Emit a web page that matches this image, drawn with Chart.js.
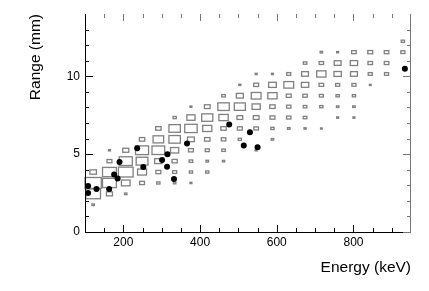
<!DOCTYPE html>
<html>
<head>
<meta charset="utf-8">
<script src="https://cdn.jsdelivr.net/npm/chart.js@4.4.1/dist/chart.umd.min.js"></script>
<style>
  html, body { margin: 0; padding: 0; background: #fff; }
  #wrap { width: 429px; height: 291px; }
</style>
</head>
<body>
<div id="wrap"><canvas id="rangeChart"></canvas></div>
<script>
// histogram binning (energy in keV, range in mm)
const energyMin = 100, energyMax = 950, energyBins = 20;
const rangeMin = 0, rangeMax = 14, rangeBins = 20;

// box cells: [energy bin, range bin, relative content]
const boxCells = [
  [0, 2, 15],
  [0, 3, 90], [1, 3, 37], [2, 3, 15],
  [0, 4, 100], [1, 4, 85], [2, 4, 53], [3, 4, 30], [4, 4, 20], [5, 4, 16], [6, 4, 12],
  [0, 5, 40], [1, 5, 85], [2, 5, 90], [3, 5, 55], [4, 5, 30], [5, 5, 25], [6, 5, 20], [7, 5, 20],
  [1, 6, 30], [2, 6, 80], [3, 6, 72], [4, 6, 45], [5, 6, 32], [6, 6, 22], [7, 6, 16], [8, 6, 14],
  [1, 7, 12], [2, 7, 37], [3, 7, 80], [4, 7, 78], [5, 7, 50], [6, 7, 30], [7, 7, 25], [8, 7, 22], [10, 7, 12],
  [3, 8, 33], [4, 8, 65], [5, 8, 70], [6, 8, 42], [7, 8, 33], [8, 8, 28], [9, 8, 20], [11, 8, 15],
  [4, 9, 33], [5, 9, 70], [6, 9, 76], [7, 9, 56], [8, 9, 33], [9, 9, 30], [10, 9, 28], [11, 9, 20], [12, 9, 16], [13, 9, 13], [14, 9, 10],
  [5, 10, 20], [6, 10, 50], [7, 10, 68], [8, 10, 57], [9, 10, 35], [10, 10, 35], [11, 10, 30], [12, 10, 27], [13, 10, 22], [15, 10, 12], [16, 10, 12],
  [6, 11, 12], [7, 11, 35], [8, 11, 70], [9, 11, 68], [10, 11, 50], [11, 11, 33], [12, 11, 27], [13, 11, 22], [14, 11, 20], [15, 11, 15], [16, 11, 15],
  [8, 12, 22], [9, 12, 43], [10, 12, 60], [11, 12, 57], [12, 12, 30], [13, 12, 27], [14, 12, 24], [15, 12, 20], [16, 12, 20],
  [9, 13, 12], [10, 13, 30], [11, 13, 47], [12, 13, 60], [13, 13, 45], [14, 13, 28], [15, 13, 25], [16, 13, 25], [17, 13, 10],
  [10, 14, 12], [11, 14, 12], [12, 14, 25], [13, 14, 42], [14, 14, 57], [15, 14, 45], [16, 14, 42], [17, 14, 25], [18, 14, 25],
  [13, 15, 22], [14, 15, 27], [15, 15, 42], [16, 15, 45], [17, 15, 28], [18, 15, 28],
  [14, 16, 15], [15, 16, 12], [16, 16, 28], [17, 16, 30], [18, 16, 28], [19, 16, 25],
  [19, 17, 20]
];

// measured points
const pointEnergy = [108, 108, 130, 163, 176, 185, 190, 236, 252, 301, 315, 314, 332, 366, 476, 514, 530, 550, 934];
const pointRange  = [2.95, 2.5, 2.76, 2.76, 3.7, 3.44, 4.49, 5.38, 4.17, 4.62, 5.0, 4.19, 3.41, 5.69, 6.9, 5.56, 6.41, 5.45, 10.49];

// axis ticks
const energyTicks = [200, 400, 600, 800];
const energyMinorTicks = [150, 250, 300, 350, 450, 500, 550, 650, 700, 750, 850, 900];
const rangeTicks = [0, 5, 10];
const rangeMinorTicks = [1, 2, 3, 4, 6, 7, 8, 9, 11, 12, 13];

const maxContent = Math.max(...boxCells.map(c => c[2]));
const dE = (energyMax - energyMin) / energyBins;
const dR = (rangeMax - rangeMin) / rangeBins;

// ROOT style "box" drawing of the 2D histogram
const boxPlugin = {
  id: 'boxes',
  beforeDatasetsDraw(chart) {
    const { ctx, scales: { x, y } } = chart;
    ctx.save();
    ctx.strokeStyle = '#808080';
    ctx.lineWidth = 1.3;
    boxCells.forEach(([i, j, c]) => {
      const f = c / maxContent;
      const ce = energyMin + (i + 0.5) * dE;
      const cr = rangeMin + (j + 0.5) * dR;
      const x0 = x.getPixelForValue(ce - f * dE / 2);
      const x1 = x.getPixelForValue(ce + f * dE / 2);
      const y0 = y.getPixelForValue(cr + f * dR / 2);
      const y1 = y.getPixelForValue(cr - f * dR / 2);
      ctx.strokeRect(x0, y0, Math.max(x1 - x0, 1.2), Math.max(y1 - y0, 1.2));
    });
    ctx.restore();
  }
};

// frame with inward ticks on all four sides
const framePlugin = {
  id: 'frame',
  afterDatasetsDraw(chart) {
    const { ctx, chartArea: a, scales: { x, y } } = chart;
    ctx.save();
    ctx.lineWidth = 1;
    ctx.strokeStyle = '#000';
    ctx.beginPath();
    ctx.moveTo(a.left + 0.5, a.top);
    ctx.lineTo(a.left + 0.5, a.bottom + 0.5);
    ctx.lineTo(a.right, a.bottom + 0.5);
    energyTicks.forEach(v => {
      const px = Math.round(x.getPixelForValue(v)) + 0.5;
      ctx.moveTo(px, a.bottom); ctx.lineTo(px, a.bottom - 7);
    });
    energyMinorTicks.forEach(v => {
      const px = Math.round(x.getPixelForValue(v)) + 0.5;
      ctx.moveTo(px, a.bottom); ctx.lineTo(px, a.bottom - 4);
    });
    rangeTicks.forEach(v => {
      const py = Math.round(y.getPixelForValue(v)) + 0.5;
      ctx.moveTo(a.left, py); ctx.lineTo(a.left + 8, py);
    });
    rangeMinorTicks.forEach(v => {
      const py = Math.round(y.getPixelForValue(v)) + 0.5;
      ctx.moveTo(a.left, py); ctx.lineTo(a.left + 4, py);
    });
    ctx.stroke();

    ctx.strokeStyle = '#777';
    ctx.beginPath();
    ctx.moveTo(a.right - 0.5, a.top);
    ctx.lineTo(a.right - 0.5, a.bottom);
    energyTicks.forEach(v => {
      const px = Math.round(x.getPixelForValue(v)) + 0.5;
      ctx.moveTo(px, a.top); ctx.lineTo(px, a.top + 7);
    });
    energyMinorTicks.forEach(v => {
      const px = Math.round(x.getPixelForValue(v)) + 0.5;
      ctx.moveTo(px, a.top); ctx.lineTo(px, a.top + 4);
    });
    rangeTicks.forEach(v => {
      const py = Math.round(y.getPixelForValue(v)) + 0.5;
      ctx.moveTo(a.right, py); ctx.lineTo(a.right - 8, py);
    });
    rangeMinorTicks.forEach(v => {
      const py = Math.round(y.getPixelForValue(v)) + 0.5;
      ctx.moveTo(a.right, py); ctx.lineTo(a.right - 4, py);
    });
    ctx.stroke();
    ctx.restore();
  }
};

Chart.defaults.font.family = '"Liberation Sans", Arial, Helvetica, sans-serif';
Chart.defaults.color = '#000';

const ctx = document.getElementById('rangeChart').getContext('2d');
new Chart(ctx, {
  type: 'scatter',
  data: {
    datasets: [{
      label: 'data',
      data: pointEnergy.map((e, k) => ({ x: e, y: pointRange[k] })),
      backgroundColor: '#000',
      borderColor: '#000',
      pointRadius: 3,
      pointHoverRadius: 3,
      borderWidth: 0
    }]
  },
  options: {
    responsive: true,
    maintainAspectRatio: false,
    animation: false,
    events: [],
    layout: { padding: { top: 14, right: 18, left: 0, bottom: 0 } },
    plugins: { legend: { display: false }, tooltip: { enabled: false } },
    scales: {
      x: {
        type: 'linear',
        min: energyMin,
        max: energyMax,
        afterBuildTicks: s => { s.ticks = energyTicks.map(v => ({ value: v })); },
        afterFit: s => { s.height = 59; },
        grid: { display: false, drawTicks: false },
        border: { display: false },
        ticks: { font: { size: 12 }, padding: 3, maxRotation: 0, autoSkip: false },
        title: {
          display: true,
          text: 'Energy (keV)',
          align: 'end',
          font: { size: 15.5 },
          padding: { top: 0, bottom: 14 }
        }
      },
      y: {
        type: 'linear',
        min: rangeMin,
        max: rangeMax,
        afterBuildTicks: s => { s.ticks = rangeTicks.map(v => ({ value: v })); },
        afterFit: s => { s.width = 85; },
        grid: { display: false, drawTicks: false },
        border: { display: false },
        ticks: { font: { size: 12 }, padding: 5 },
        title: {
          display: true,
          text: 'Range (mm)',
          align: 'end',
          font: { size: 15.5 },
          padding: { top: 26, bottom: 0 }
        }
      }
    }
  },
  plugins: [boxPlugin, framePlugin]
});
</script>
</body>
</html>
